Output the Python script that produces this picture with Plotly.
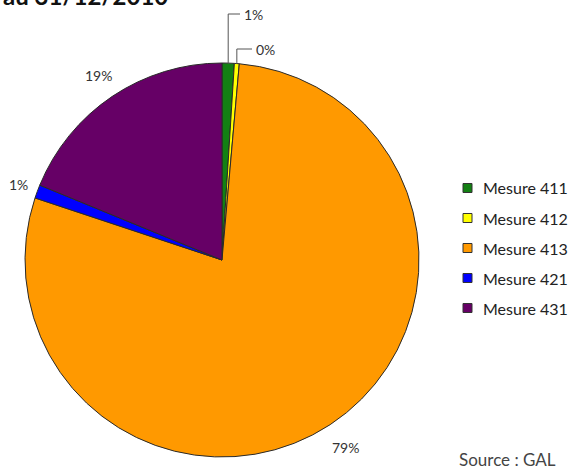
import math
import plotly.graph_objects as go

# Répartition par mesure
mesures = ["Mesure 411", "Mesure 412", "Mesure 413", "Mesure 421", "Mesure 431"]
parts = [1.0, 0.4, 78.7, 1.1, 18.8]
couleurs = ["#138013", "#FFFF00", "#FF9900", "#0000FF", "#660066"]

W, H = 573, 466
CX, CY, R = 222, 260, 197          # pie centre and radius in pixels


def fx(x):
    return x / W


def fy(y):
    return 1 - y / H


total = sum(parts)
pcts = [p / total * 100 for p in parts]
etiquettes = [f"{round(p)}%" for p in pcts]

# mid-angle of each slice, clockwise from 12 o'clock
angles = []
cum = 0.0
for p in parts:
    angles.append(math.radians((cum + p / 2) / total * 360))
    cum += p


def on_circle(a, r):
    return CX + r * math.sin(a), CY - r * math.cos(a)


fig = go.Figure(go.Pie(
    labels=mesures,
    values=parts,
    marker=dict(colors=couleurs, line=dict(color="#2a2a2a", width=1)),
    sort=False,
    direction="clockwise",
    rotation=0,
    textinfo="none",
    hoverinfo="label+percent",
    showlegend=False,
    domain=dict(x=[fx(CX - R), fx(CX + R)], y=[fy(CY + R), fy(CY - R)]),
))

annotations = []
shapes = []
lbl_font = dict(family="Lato", size=14, color="#333333")

# small slices at the top: labels with elbow leader lines
leaders = {0: (14, 240), 1: (49, 252)}
for i, (ly, lx) in leaders.items():
    x0, y0 = on_circle(angles[i], R)
    shapes.append(dict(
        type="path", xref="paper", yref="paper",
        path=f"M {fx(x0)},{fy(y0)} L {fx(x0)},{fy(ly)} L {fx(lx)},{fy(ly)}",
        line=dict(color="#555555", width=1),
    ))
    annotations.append(dict(
        x=fx(lx + 2), y=fy(ly), xref="paper", yref="paper",
        text=etiquettes[i], showarrow=False, xanchor="left", yanchor="middle",
        font=lbl_font,
    ))

# other slices: labels just outside the rim
rayons = {2: 1.14, 3: 1.10, 4: 1.125}
for i, k in rayons.items():
    x, y = on_circle(angles[i], R * k)
    annotations.append(dict(
        x=fx(x), y=fy(y), xref="paper", yref="paper",
        text=etiquettes[i], showarrow=False, xanchor="center", yanchor="middle",
        font=lbl_font,
    ))

# legend
for i, (nom, c) in enumerate(zip(mesures, couleurs)):
    yc = 188 + 30 * i
    shapes.append(dict(
        type="rect", xref="paper", yref="paper",
        x0=fx(463), x1=fx(472), y0=fy(yc - 4.5), y1=fy(yc + 4.5),
        fillcolor=c, line=dict(color="#333333", width=1),
    ))
    annotations.append(dict(
        x=fx(481), y=fy(yc), xref="paper", yref="paper",
        text=nom, showarrow=False, xanchor="left", yanchor="middle",
        font=dict(family="Lato", size=16, color="#222222"),
    ))

# title (runs off the top edge)
annotations.append(dict(
    x=fx(170), y=fy(12), xref="paper", yref="paper",
    text="<b>au 31/12/2010</b>", showarrow=False, xanchor="right", yanchor="bottom",
    font=dict(family="Lato", size=24, color="#111111"),
))

# source
annotations.append(dict(
    x=fx(457), y=fy(472), xref="paper", yref="paper",
    text="Source : GAL", showarrow=False, xanchor="left", yanchor="bottom",
    font=dict(family="Lato", size=17, color="#444444"),
))

fig.update_layout(
    width=W, height=H,
    margin=dict(l=0, r=0, t=0, b=0),
    paper_bgcolor="white", plot_bgcolor="white",
    annotations=annotations, shapes=shapes,
)

fig.write_html("out.html")
